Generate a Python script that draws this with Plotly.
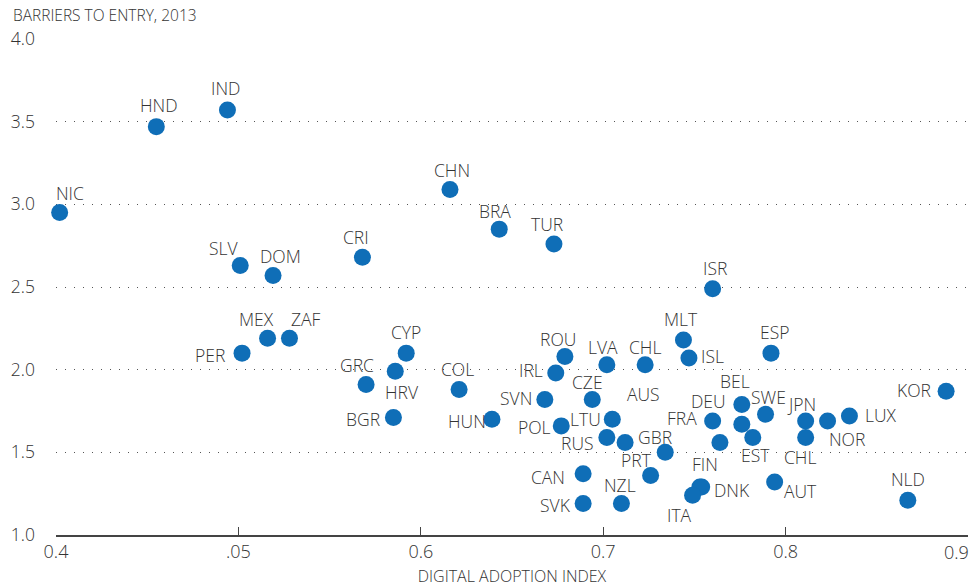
import plotly.graph_objects as go

# ---- data ----
countries = ["NIC", "HND", "IND", "SLV", "DOM", "CRI", "CHN", "BRA", "TUR", "ISR",
             "MEX", "ZAF", "PER", "CYP", "GRC", "HRV", "BGR", "COL", "HUN", "ROU",
             "LVA", "CHL", "MLT", "ISL", "ESP", "IRL", "SVN", "CZE", "AUS", "POL",
             "LTU", "RUS", "GBR", "PRT", "CAN", "SVK", "NZL", "FIN", "DNK", "ITA",
             "FRA", "", "BEL", "DEU", "EST", "SWE", "JPN", "CHL", "NOR", "LUX",
             "KOR", "NLD", "AUT"]
digital_adoption = [0.402, 0.455, 0.494, 0.501, 0.519, 0.568, 0.616, 0.643, 0.673, 0.760,
                    0.516, 0.528, 0.502, 0.592, 0.570, 0.586, 0.585, 0.621, 0.639, 0.679,
                    0.702, 0.723, 0.744, 0.747, 0.792, 0.674, 0.668, 0.694, 0.712, 0.677,
                    0.705, 0.702, 0.734, 0.726, 0.689, 0.689, 0.710, 0.753, 0.754, 0.749,
                    0.760, 0.764, 0.776, 0.776, 0.782, 0.789, 0.811, 0.811, 0.823, 0.835,
                    0.888, 0.867, 0.794]
barriers_to_entry = [2.95, 3.47, 3.57, 2.63, 2.57, 2.68, 3.09, 2.85, 2.76, 2.49,
                     2.19, 2.19, 2.10, 2.10, 1.91, 1.99, 1.71, 1.88, 1.70, 2.08,
                     2.03, 2.03, 2.18, 2.07, 2.10, 1.98, 1.82, 1.82, 1.56, 1.66,
                     1.70, 1.59, 1.50, 1.36, 1.37, 1.19, 1.19, 1.29, 1.29, 1.24,
                     1.69, 1.56, 1.79, 1.67, 1.59, 1.73, 1.69, 1.59, 1.69, 1.72,
                     1.87, 1.21, 1.32]
x_tick_values = [0.4, 0.5, 0.6, 0.7, 0.8, 0.9]
x_tick_labels = ["0.4", ".05", "0.6", "0.7", "0.8", "0.9"]
y_tick_values = [1.0, 1.5, 2.0, 2.5, 3.0, 3.5, 4.0]
y_tick_labels = ["1.0", "1.5", "2.0", "2.5", "3.0", "3.5", "4.0"]

# ---- label placement (pixel offsets from each marker: dx right, dy down) ----
label_offsets = [(10, -20), (3, -22), (-2, -22), (-16, -18), (7, -19), (-6, -20), (2, -19),
                 (-4, -18), (-7, -20), (2, -21), (-11, -19), (17, -19), (-32, 2), (0, -21),
                 (-9, -20), (7, 21), (-30, 1), (-2, -21), (-25, 2), (-7, -17), (-4, -18),
                 (0, -18), (-2, -21), (24, -2), (3, -21), (-25, -3), (-29, -1), (-5, -17),
                 (18, -48), (-27, 1), (-27, 0), (-29, 6), (-10, -15), (-14, -15), (-35, 3),
                 (-28, 1), (-1, -19), (5, -23), (30, 3), (-13, 20), (-31, -3), (0, 0),
                 (-7, -23), (-33, -23), (3, 18), (3, -17), (-4, -17), (-6, 20), (19, 18),
                 (32, -1), (-32, -1), (0, -21), (26, 9)]

FONT = "Open Sans"
TEXT_COLOR = "#333333"
DOT_COLOR = "#0F6EB7"

# the last tick label is drawn right-aligned to its tick (as in the original) so it stays visible
tick_text_display = x_tick_labels[:-1] + [""]

fig = go.Figure()
fig.add_trace(go.Scatter(
    x=digital_adoption, y=barriers_to_entry, mode="markers",
    marker=dict(size=17, color=DOT_COLOR, line=dict(width=0)),
    cliponaxis=False, hoverinfo="text", text=countries,
))

for name, xv, yv, (dx, dy) in zip(countries, digital_adoption, barriers_to_entry, label_offsets):
    if not name:
        continue
    fig.add_annotation(x=xv, y=yv, text=name, showarrow=False,
                       xshift=dx, yshift=-dy,
                       font=dict(family=FONT, size=17.5, color=TEXT_COLOR, weight=300))

fig.add_annotation(x=x_tick_values[-1], xref="x", yref="paper", y=-0.0343,
                   xanchor="right", yanchor="middle", xshift=3, showarrow=False,
                   text=x_tick_labels[-1],
                   font=dict(family=FONT, size=18, color=TEXT_COLOR, weight=300))

fig.add_annotation(xref="paper", yref="paper", x=-0.0494, y=1.049,
                   xanchor="left", yanchor="middle", showarrow=False,
                   text="BARRIERS TO ENTRY, 2013",
                   font=dict(family=FONT, size=15.5, color=TEXT_COLOR, weight=300))

fig.update_layout(
    width=971, height=587,
    margin=dict(l=56, r=3, t=39, b=52, autoexpand=False),
    plot_bgcolor="white", paper_bgcolor="white",
    showlegend=False,
    font=dict(family=FONT, color=TEXT_COLOR),
    xaxis=dict(
        range=[0.4, 0.9], tickvals=x_tick_values, ticktext=tick_text_display,
        showgrid=False, zeroline=False, automargin=False,
        showline=True, linecolor="#444444", linewidth=1.5,
        ticks="inside", ticklen=8, tickwidth=1.2, tickcolor="#444444",
        tickfont=dict(family=FONT, size=18, color=TEXT_COLOR, weight=300),
        title=dict(text="DIGITAL ADOPTION INDEX", standoff=8,
                   font=dict(family=FONT, size=16, color=TEXT_COLOR, weight=300)),
    ),
    yaxis=dict(
        range=[1.0, 4.0], tickvals=y_tick_values, ticktext=y_tick_labels,
        showgrid=True, gridcolor="#555555", gridwidth=1, griddash="1px,8px",
        zeroline=False, showline=False, ticks="", automargin=False,
        ticklabelstandoff=20,
        tickfont=dict(family=FONT, size=17.5, color=TEXT_COLOR, weight=300),
    ),
)

fig.write_html("out.html", config={"displayModeBar": False},
               post_script="document.body.style.margin='0px';")
